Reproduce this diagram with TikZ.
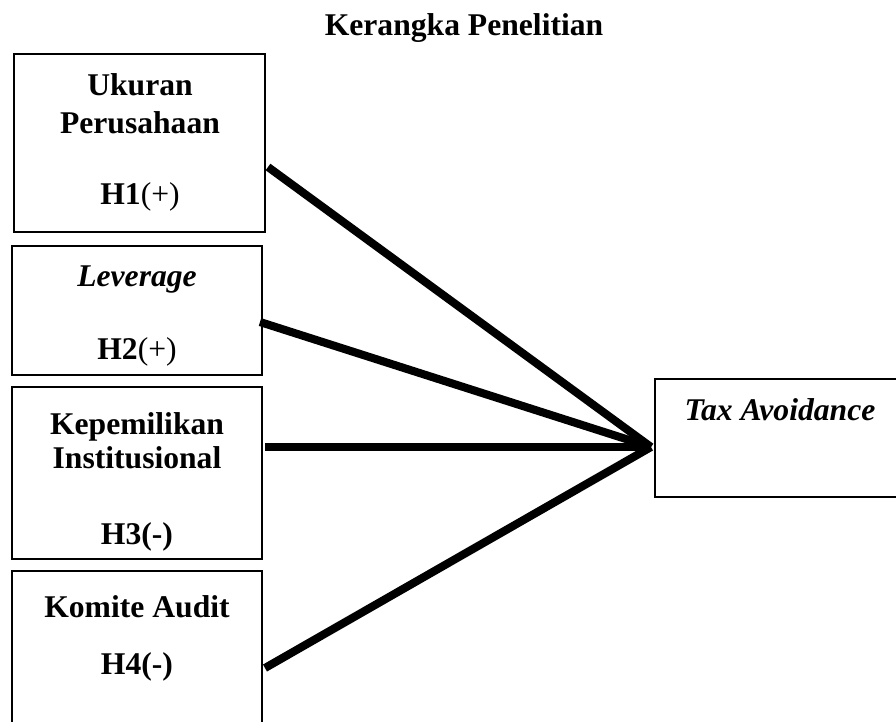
\documentclass[tikz,border=0pt]{standalone}
\usepackage{fontspec}
\setmainfont{Liberation Serif}
\usepackage{tikz}
\usetikzlibrary{positioning}
\usetikzlibrary{calc}

\tikzset{
    varbox/.style={draw, line width=1.1pt, inner sep=0pt},
    lbl/.style={font=\fontsize{18}{21}\selectfont\bfseries, inner sep=0pt},
    link/.style={line width=4.6pt}
}

\begin{document}
\begin{tikzpicture}[x=0.02cm, y=-0.02cm]

    \clip (0,0) rectangle (896,721);
    \fill[white] (0,0) rectangle (896,721);

    \node[lbl] (judul) at (464,28) {Kerangka Penelitian};

    % kotak variabel independen
    \node[varbox, minimum width=251*0.02cm, minimum height=178*0.02cm] (ukuran) at (139.5,143) {};
    \node[varbox, minimum width=250*0.02cm, minimum height=129*0.02cm] (leverage) at (137,310.5) {};
    \node[varbox, minimum width=250*0.02cm, minimum height=172*0.02cm] (institusi) at (137,473) {};
    \node[varbox, minimum width=250*0.02cm, minimum height=200*0.02cm] (komite) at (137,671) {};

    % kotak variabel dependen
    \node[varbox, line width=1.3pt, minimum width=300*0.02cm, minimum height=118*0.02cm] (tax) at (805,438) {};

    \node[lbl] at (140,85) {Ukuran};
    \node[lbl] at (140,123) {Perusahaan};
    \node[lbl] at (140,197) {H1\textmd{(+)}};

    \node[lbl] at (137,280) {\itshape Leverage};
    \node[lbl] at (137,352) {H2\textmd{(+)}};

    \node[lbl] at (137,427) {Kepemilikan};
    \node[lbl] at (137,458) {Institusional};
    \node[lbl] at (137,537) {H3(-)};

    \node[lbl] at (137,607) {Komite Audit};
    \node[lbl] at (137,667) {H4(-)};

    \node[lbl] at (780,410) {\itshape Tax Avoidance};

    % garis pengaruh
    \coordinate (meet) at (651,447);
    \coordinate (s1) at (268,167);
    \coordinate (s2) at (260,322);
    \coordinate (s3) at (265,447);
    \coordinate (s4) at (265,668);

    \draw[link] (s1) -- (meet);
    \draw[link] (s2) -- (meet);
    \draw[link] (s3) -- (meet);
    \draw[link] (s4) -- (meet);

\end{tikzpicture}
\end{document}
